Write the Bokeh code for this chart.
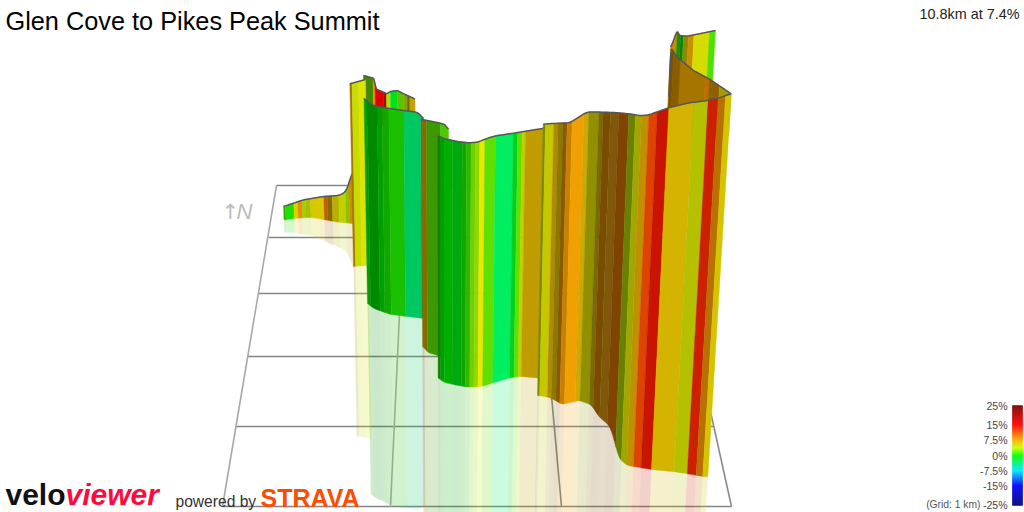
import numpy as np
from bokeh.plotting import figure
from bokeh.models import Range1d
from bokeh.core.properties import value
from bokeh.embed import file_html
from bokeh.resources import INLINE

W, H = 1024, 512
VANISH_X, VANISH_Y = 444.0, 4800.0
REFLECT = 0.93

# ---- floor grid -------------------------------------------------------
grid_h_y = [185, 237, 293, 356, 426, 506]
grid_h_x0 = [276, 268, 258, 247, 235, 222]
grid_h_x1 = [660, 672, 684, 698, 713, 731]
grid_v_x0 = [276, 405, 532, 660]
grid_v_y0 = [185, 185, 185, 185]
grid_v_x1 = [222, 390, 561, 731]
grid_v_y1 = [506, 506, 506, 506]
grid_v_col = ["#a8a8a8", "#b0b0b0", "#8a8a8a", "#8a8a8a"]

# ---- ribbon walls, far to near ----------------------------------------
tail_top_x = [283, 293, 303, 323, 338, 345, 348, 350, 352]
tail_top_y = [206, 202.7, 199.3, 196, 195, 191.7, 185, 177, 170]
tail_base_x = [283, 293, 310, 323, 337, 352]
tail_base_y = [219.5, 218, 217, 219, 221.7, 223]
tail_edges = [283, 285, 293.3, 297.3, 301.7, 305, 310, 323.3, 326.7, 331.7, 338.3, 345, 348.3, 352]
tail_cols = ["#30b000", "#20e000", "#e0d000", "#e09000", "#a0d000", "#a8c000", "#d8c800", "#c06000",
             "#8a6a00", "#b8b000", "#c0d000", "#90c000", "#d09000"]

yellow_top_x = [349.3, 365]
yellow_top_y = [83.3, 79]
yellow_base_x = [352, 367]
yellow_base_y = [266, 265]
yellow_edges = [349.3, 351.5, 358, 365]
yellow_cols = ["#a87800", "#c8dc00", "#dce400"]

curl_top_x = [363, 374, 375, 383.3, 386, 390, 396.7, 403.3, 414.5]
curl_top_y = [75, 78, 88.3, 91.7, 93.3, 91, 90, 93.3, 98.5]
curl_edges = [363, 372.5, 374.5, 383, 386, 390, 397, 403, 406.7, 409.3, 414.5]
curl_cols = ["#3f8a00", "#e89000", "#e00000", "#a80a00", "#a8e000", "#00e020", "#60c000", "#80a800",
             "#6a6a00", "#c8a000"]
curl_base = [125]

main_top_x = [363.5, 366.7, 373, 386.7, 403, 416.7, 420.7, 423]
main_top_y = [96.7, 101.7, 105, 107.7, 110, 111.7, 115, 119]
main_base_x = [365.5, 373, 390, 423]
main_base_y = [301.7, 308, 314, 318]
main_edges = [363.5, 366.7, 376.7, 381.7, 388.3, 403.3, 420, 423]
main_cols = ["#00a000", "#008a00", "#00a000", "#10a800", "#18c000", "#00c860", "#10a060"]

olive_top_x = [421, 427, 440, 446.7, 448]
olive_top_y = [119, 120, 122.7, 125, 131]
olive_base_x = [421.7, 427, 437, 449]
olive_base_y = [345, 352, 355, 357]
olive_edges = [421, 426, 437.5, 440, 448]
olive_cols = ["#8a6a00", "#3c9a00", "#3c9a00", "#50c800"]
olive_mirrored = [2]

near_top_x = [437.3, 443, 457, 468, 477, 487, 495, 513, 540, 546]
near_top_y = [135, 138, 141, 142.3, 141.7, 137.7, 135.3, 132.7, 128.3, 127]
near_base_x = [437.3, 443, 457, 468, 483, 495, 510, 520, 540, 546]
near_base_y = [376.7, 381.7, 385, 386.7, 385.7, 381.7, 377.3, 376, 377.7, 379]
near_edges = [437.3, 440, 444, 452, 461.7, 466, 470.7, 475, 479.3, 484.3, 495, 512.7, 517.3, 521.7, 525,
              543]
near_cols = ["#108000", "#00a000", "#00b000", "#00a810", "#10a800", "#30b800", "#70d000", "#90d800",
             "#e8e800", "#60e000", "#00ee60", "#00d020", "#60e000", "#c0d000", "#c09c00"]

front_top_x = [542.7, 545, 569.3, 583.3, 588.3, 613.3, 628.3, 640, 648.3, 668.3, 686.7, 706.7, 718.3, 730.7]
front_top_y = [124, 123.3, 122.3, 113.3, 111.3, 112, 113.3, 115.3, 114.3, 107.3, 102.7, 100, 97.3, 93.3]
front_base_x = [538.3, 550, 561.7, 578.3, 590, 598.3, 608.3, 618.3, 626.7, 640, 653.3, 676.7, 706.7, 710]
front_base_y = [395, 397.3, 404, 400, 404, 416.7, 426, 458.3, 465, 467.3, 469.3, 471.7, 476.7, 475]
front_edges = [542.7, 545, 553.3, 557.7, 562.3, 566.7, 571.7, 583.3, 588.3, 598.3, 602.7, 610, 618.3, 628.3,
               635, 641, 648.3, 656.7, 668.3, 693.3, 707.7, 717.7, 725, 730.7]
front_cols = ["#7a8a00", "#c5c800", "#b08a00", "#8a7a00", "#8a5a00", "#c88000", "#f0a000", "#d0a800",
              "#909000", "#7a6a00", "#7a4c00", "#80580a", "#7e4400", "#6a8000", "#a0a800", "#c09000",
              "#dd4400", "#c81400", "#d4b400", "#b4c000", "#cc2000", "#b87000", "#d4c400"]

upper_top_x = [670, 673, 676.7, 679, 686.7, 715]
upper_top_y = [47, 40, 30, 35, 35.7, 30]
upper_edges = [670, 676.7, 680, 683, 688, 693.5, 709, 715]
upper_cols = ["#d08a00", "#2a8a00", "#008800", "#8a8a00", "#c89000", "#d4dc00", "#50e000"]
upper_base = [160]

back_top_x = [668.3, 670, 676.7, 693, 710, 730.7]
back_top_y = [107, 46.7, 56.7, 70, 79.3, 93.3]
back_edges = [668.3, 673.3, 680, 705, 709, 719, 730.7]
back_cols = ["#7a5200", "#8a5c00", "#a87400", "#c06a00", "#8f5f00", "#a89a00"]
back_base = [135]

# ---- colour key -------------------------------------------------------
key_labels = ["25%", "15%", "7.5%", "0%", "-7.5%", "-15%", "-25%"]
key_y = [405, 424, 439, 455, 470, 485, 504]
key_stop_y = [405, 424, 439, 447, 455, 470, 485, 505]
key_stop_r = [128, 255, 255, 200, 0, 0, 0, 0]
key_stop_g = [0, 0, 170, 255, 255, 230, 0, 0]
key_stop_b = [0, 0, 0, 0, 0, 255, 255, 120]

title_text = "Glen Cove to Pikes Peak Summit"
info_text = "10.8km at 7.4%"


def lean(x, y0, y1):
    return VANISH_X + (np.asarray(x) - VANISH_X) * (VANISH_Y - np.asarray(y1)) / (VANISH_Y - np.asarray(y0))


def smooth(x, xp, yp, r=2.5):
    return np.mean([np.interp(x + d, xp, yp) for d in (-r, -r / 2, 0, r / 2, r)], axis=0)


def strips(top_x, top_y, base_x, base_y, edges, colours, flat=None, sm=2.5):
    walls, mirrors = [], []
    for i, c in enumerate(colours):
        n = max(2, int((edges[i + 1] - edges[i]) / 1.5) + 1)
        xs = np.linspace(edges[i], edges[i + 1], n)
        ty = smooth(xs, top_x, top_y, sm)
        if flat is not None:
            by = np.full_like(xs, flat)
            bx = lean(xs, ty, by)
        else:
            by = smooth(xs, base_x, base_y)
            bx = lean(xs, ty, by)
            by = smooth(bx, base_x, base_y)
            bx = lean(xs, ty, by)
        walls.append((list(xs) + list(bx[::-1]), list(ty) + list(by[::-1]), c))
        my = by + REFLECT * (by - ty)
        mx = lean(xs, ty, my)
        mirrors.append((list(bx) + list(mx[::-1]), list(by) + list(my[::-1]), c))
    return walls, mirrors


p = figure(width=W, height=H, x_range=Range1d(0, W), y_range=Range1d(H, 0), output_backend="svg",
           toolbar_location=None, min_border=0, outline_line_color=None, background_fill_color="white",
           border_fill_color="white")
p.axis.visible = False
p.grid.visible = False

p.segment(grid_h_x0, grid_h_y, grid_h_x1, grid_h_y, line_color="#858585", line_width=1.6)
p.segment(grid_v_x0, grid_v_y0, grid_v_x1, grid_v_y1, line_color=grid_v_col, line_width=1.6)

tail = strips(tail_top_x, tail_top_y, tail_base_x, tail_base_y, tail_edges, tail_cols)
yellow = strips(yellow_top_x, yellow_top_y, yellow_base_x, yellow_base_y, yellow_edges, yellow_cols)
main = strips(main_top_x, main_top_y, main_base_x, main_base_y, main_edges, main_cols)
olive = strips(olive_top_x, olive_top_y, olive_base_x, olive_base_y, olive_edges, olive_cols)
near = strips(near_top_x, near_top_y, near_base_x, near_base_y, near_edges, near_cols)
front = strips(front_top_x, front_top_y, front_base_x, front_base_y, front_edges, front_cols)
upper = strips(upper_top_x, upper_top_y, None, None, upper_edges, upper_cols, flat=upper_base[0], sm=1)
back = strips(back_top_x, back_top_y, None, None, back_edges, back_cols, flat=back_base[0], sm=1)
curl = strips(curl_top_x, curl_top_y, None, None, curl_edges, curl_cols, flat=curl_base[0], sm=1)

for mirror_set in (tail[1], yellow[1], main[1], olive[1][:olive_mirrored[0]], near[1], front[1]):
    for xs, ys, c in mirror_set:
        p.patch(xs, ys, fill_color=c, fill_alpha=0.2, line_color=None)

outlines = [(upper_top_x, upper_top_y, 1), (curl_top_x, curl_top_y, 1), (back_top_x, back_top_y, 1),
            (tail_top_x, tail_top_y, 2.5), (yellow_top_x, yellow_top_y, 1), (main_top_x, main_top_y, 2.5),
            (olive_top_x, olive_top_y, 2.5), (near_top_x, near_top_y, 2.5), (front_top_x, front_top_y, 2.5)]
order = [upper, curl, back, tail, yellow, main, olive, near, front]
for wall, (ox, oy, r) in zip(order, outlines):
    for xs, ys, c in wall[0]:
        p.patch(xs, ys, fill_color=c, line_color=c, line_width=0.4)
    lx = np.linspace(ox[0], ox[-1], 120)
    p.line(lx, smooth(lx, ox, oy, r), line_color="#555555", line_width=1.5)

# colour key
ky = np.arange(key_stop_y[0], key_stop_y[-1])
kc = ["#%02x%02x%02x" % (int(np.interp(v, key_stop_y, key_stop_r)), int(np.interp(v, key_stop_y, key_stop_g)),
                         int(np.interp(v, key_stop_y, key_stop_b))) for v in ky]
p.quad(left=1012, right=1022, top=ky, bottom=ky + 1, fill_color=kc, line_color=kc, line_width=0.5)
p.text([1007] * len(key_y), key_y, text=key_labels, text_font=value("Liberation Sans"), text_font_size="10.5px",
       text_color="#444444", text_align="right", text_baseline="middle")
p.text([980], [504], text=["(Grid: 1 km)"], text_font=value("Liberation Sans"), text_font_size="10.3px",
       text_color="#555555", text_align="right", text_baseline="middle")

# titles
p.text([5], [20], text=[title_text], text_font=value("Liberation Sans"), text_font_size="25.3px",
       text_color="#000000", text_baseline="middle")
p.text([1019], [13], text=[info_text], text_font=value("Liberation Sans"), text_font_size="14.4px",
       text_color="#222222", text_align="right", text_baseline="middle")
p.text([221], [211], text=["↑"], text_font=value("DejaVu Sans"), text_font_size="21px",
       text_color="#bbbbbb", text_baseline="middle")
p.text([236], [211], text=["N"], text_font=value("Liberation Sans"), text_font_style="italic",
       text_font_size="22px", text_color="#bbbbbb", text_baseline="middle")

# branding
p.text([5], [494], text=["velo"], text_font=value("Liberation Sans"), text_font_style="bold",
       text_font_size="30px", text_color="#111111", text_baseline="middle")
p.text([65], [494], text=["viewer"], text_font=value("Liberation Sans"), text_font_style="bold italic",
       text_font_size="30px", text_color="#ff0a3c", text_baseline="middle")
p.text([175], [501], text=["powered by"], text_font=value("Liberation Sans"), text_font_size="15.6px",
       text_color="#333333", text_baseline="middle")
p.text([260], [497], text=["STRAVA"], text_font=value("Liberation Sans"), text_font_style="bold",
       text_font_size="25px", text_color="#fc4c02", text_baseline="middle")

open("out.html", "w").write(file_html(p, INLINE))
